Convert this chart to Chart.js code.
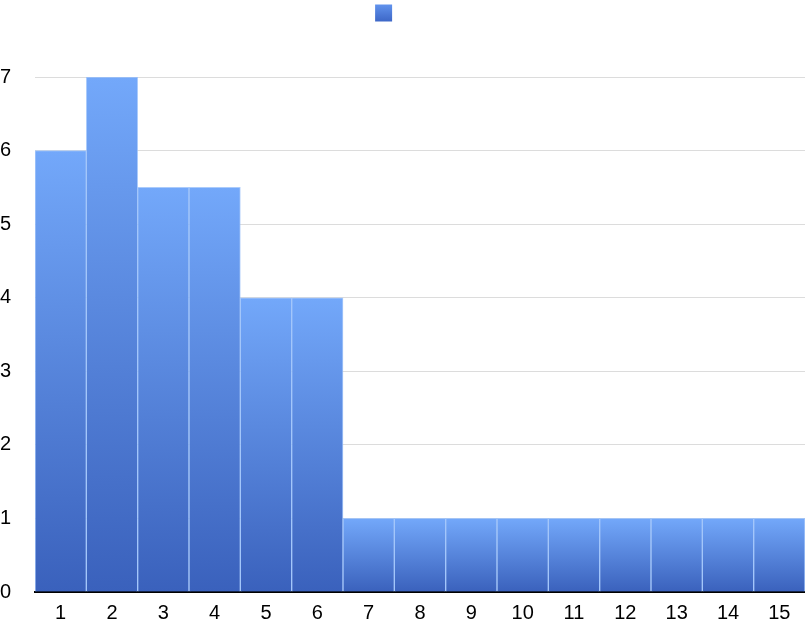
<!DOCTYPE html>
<html>
<head>
<meta charset="utf-8">
<script src="https://cdn.jsdelivr.net/npm/chart.js@4/dist/chart.umd.min.js"></script>
<style>
  html, body { margin: 0; padding: 0; background: #fff; }
  #wrap { width: 805px; height: 625px; }
</style>
</head>
<body>
<div id="wrap"><canvas id="canvas"></canvas></div>
<script>
const categorias = ["1","2","3","4","5","6","7","8","9","10","11","12","13","14","15"];
const valores = [6, 7, 5.5, 5.5, 4, 4, 1, 1, 1, 1, 1, 1, 1, 1, 1];
const ticksY = [0, 1, 2, 3, 4, 5, 6, 7];

const colorArriba = "rgb(115,168,250)";
const colorAbajo = "rgb(58,97,188)";

function degradadoBarra(ctx){
    // cada barra tiene su propio degradado, de claro arriba a oscuro abajo
    if (ctx.type !== "data") return colorArriba;
    const chart = ctx.chart;
    if (!chart.chartArea) return colorArriba;
    const y = chart.scales.y;
    const top = y.getPixelForValue(ctx.raw);
    const bottom = y.getPixelForValue(0);
    const g = chart.ctx.createLinearGradient(0, top, 0, bottom);
    g.addColorStop(0, colorArriba);
    g.addColorStop(1, colorAbajo);
    return g;
}

// hueco extra bajo la leyenda
const espacioLeyenda = {
    id: "espacioLeyenda",
    beforeInit(chart){
        const fitOriginal = chart.legend.fit;
        chart.legend.fit = function(){
            fitOriginal.bind(chart.legend)();
            this.height += 44;
        };
    }
};

const fuente = { family: "'Liberation Sans', Arial, sans-serif", size: 20 };

let chart = new Chart(document.getElementById("canvas").getContext("2d"), {
    type: "bar",
    data: {
        labels: categorias,
        datasets: [{
            label: "",
            data: valores,
            backgroundColor: degradadoBarra,
            borderColor: "rgba(150,190,250,0.8)",
            borderWidth: 1,
            barPercentage: 1,
            categoryPercentage: 1
        }]
    },
    options: {
        responsive: true,
        maintainAspectRatio: false,
        animation: false,
        layout: { padding: { left: 0, right: 0, top: 0, bottom: 0 } },
        plugins: {
            tooltip: { enabled: false },
            legend: {
                position: "top",
                labels: {
                    boxWidth: 17,
                    boxHeight: 17,
                    padding: 3,
                    font: fuente,
                    generateLabels(chart){
                        const g = chart.ctx.createLinearGradient(0, 4, 0, 21);
                        g.addColorStop(0, "rgb(98,148,238)");
                        g.addColorStop(1, "rgb(62,104,200)");
                        return [{
                            text: "     ",
                            fillStyle: g,
                            strokeStyle: "rgba(0,0,0,0)",
                            lineWidth: 0,
                            datasetIndex: 0
                        }];
                    }
                }
            }
        },
        scales: {
            x: {
                grid: { display: false, drawTicks: false },
                border: { display: true, color: "#000", width: 2 },
                ticks: { color: "#000", font: fuente, padding: 9, maxRotation: 0 },
                afterFit(axis){
                    axis.height = 33;
                }
            },
            y: {
                min: 0,
                max: 7,
                afterBuildTicks(axis){
                    axis.ticks = ticksY.map(v => ({ value: v }));
                },
                afterFit(axis){
                    axis.width = 35;
                },
                grid: { color: "#dcdcdc", lineWidth: 1, drawTicks: false },
                border: { display: false },
                ticks: { color: "#000", font: fuente, padding: 0, crossAlign: "far" }
            }
        }
    },
    plugins: [espacioLeyenda]
});
</script>
</body>
</html>
